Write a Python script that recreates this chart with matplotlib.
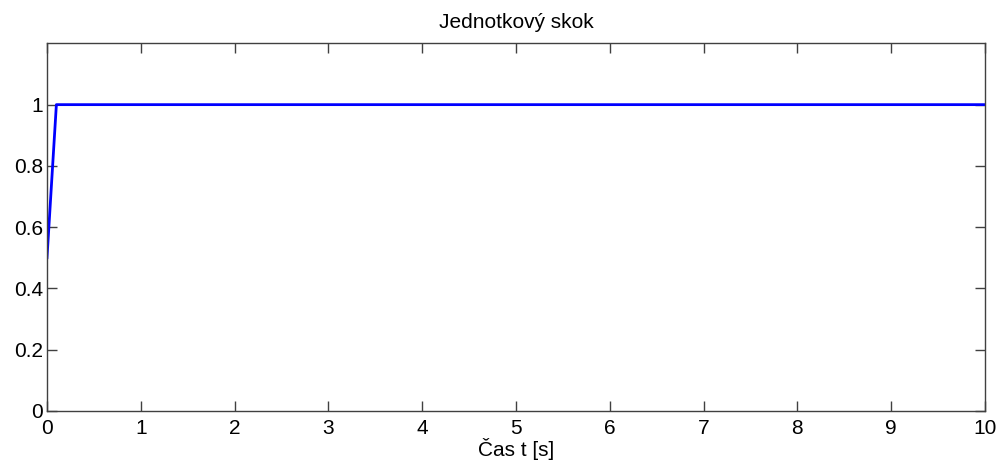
import matplotlib.pyplot as plt

# Jednotkovy skok - heaviside, v t=0 hodnota 0.5
t = [0, 0.1, 10]
u = [0.5, 1, 1]

xticks = list(range(0, 11))
yticks = [0, 0.2, 0.4, 0.6, 0.8, 1]

plt.rcParams['font.family'] = ['Liberation Sans', 'DejaVu Sans']
plt.rcParams['font.size'] = 15

fig = plt.figure(figsize=(10.02, 4.62), dpi=100)
ax = fig.add_axes([0.0469, 0.111, 0.9361, 0.795])

ax.plot(t, u, color='#0000ff', linewidth=2.0)

ax.set_xlim(0, 10)
ax.set_ylim(0, 1.2)
ax.set_xticks(xticks)
ax.set_yticks(yticks)
ax.set_yticklabels(['0', '0.2', '0.4', '0.6', '0.8', '1'])
ax.tick_params(direction='in', length=7, width=1, color='#404040',
               top=True, right=True)
ax.tick_params(axis='x', pad=6)
ax.tick_params(axis='y', pad=3)
for s in ax.spines.values():
    s.set_color('#404040')
    s.set_linewidth(1)

ax.set_title('Jednotkový skok', fontsize=15, pad=11)
ax.set_xlabel('Čas t [s]', labelpad=0)

fig.savefig('out.png', dpi=100)
